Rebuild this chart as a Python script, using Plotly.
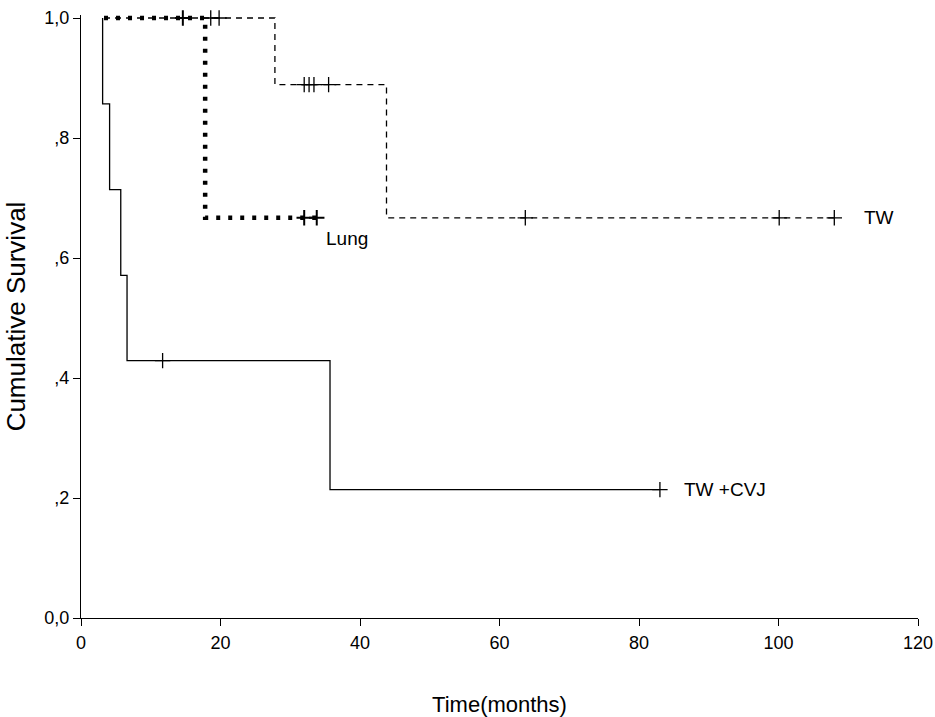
import plotly.graph_objects as go

# ---- data (months, cumulative survival) ----
tw_cvj_time = [3.1, 4.1, 5.7, 6.6, 11.7, 35.7, 83.0]
tw_cvj_surv = [0.857, 0.714, 0.571, 0.429, 0.429, 0.214, 0.214]
tw_cvj_cens = [0, 0, 0, 0, 1, 0, 1]

lung_time = [3.3, 14.6, 17.8, 32.0, 33.8]
lung_surv = [1.0, 1.0, 0.667, 0.667, 0.667]
lung_cens = [0, 1, 0, 1, 1]

tw_time = [3.3, 18.6, 19.8, 27.8, 32.0, 32.7, 33.4, 35.5, 43.8, 63.7, 100.1, 108.0]
tw_surv = [1.0, 1.0, 1.0, 0.889, 0.889, 0.889, 0.889, 0.889, 0.667, 0.667, 0.667, 0.667]
tw_cens = [0, 1, 1, 0, 1, 1, 1, 1, 0, 1, 1, 1]

y_ticks = [0.0, 0.2, 0.4, 0.6, 0.8, 1.0]
y_ticktext = ["0,0", ",2", ",4", ",6", ",8", "1,0"]
x_ticks = [0, 20, 40, 60, 80, 100, 120]

labels = [("TW +CVJ", 86.2, 0.214), ("Lung", 34.9, 0.632), ("TW", 111.9, 0.667)]

FONT = "Liberation Sans, Arial, sans-serif"

fig = go.Figure()


def add_curve(t, s, c, dash, width, start_at_one=True, mwidth=1.3):
    xs = list(t)
    ys = list(s)
    if start_at_one and ys[0] != 1.0:
        xs = [t[0]] + xs
        ys = [1.0] + ys
    fig.add_trace(go.Scatter(x=xs, y=ys, mode="lines", line_shape="hv",
                             line=dict(color="black", width=width, dash=dash),
                             hoverinfo="skip", showlegend=False))
    cx = [a for a, f in zip(t, c) if f]
    cy = [b for b, f in zip(s, c) if f]
    fig.add_trace(go.Scatter(x=cx, y=cy, mode="markers", cliponaxis=False,
                             marker=dict(symbol="cross-thin", size=11,
                                         line=dict(color="black", width=mwidth)),
                             hoverinfo="skip", showlegend=False))


add_curve(tw_time, tw_surv, tw_cens, "6px,5px", 1.3)
add_curve(lung_time, lung_surv, lung_cens, "4px,8px", 4.5, mwidth=2)
add_curve(tw_cvj_time, tw_cvj_surv, tw_cvj_cens, "solid", 1.3)

for txt, x, y in labels:
    fig.add_annotation(x=x, y=y, text=txt, showarrow=False, xanchor="left",
                       yanchor="middle", font=dict(family=FONT, size=19, color="black"))

fig.update_layout(
    width=935, height=717,
    margin=dict(l=81, r=17, t=15, b=99),
    plot_bgcolor="white", paper_bgcolor="white",
    font=dict(family=FONT, size=18, color="black"),
    xaxis=dict(range=[0, 120], tickvals=x_ticks, showgrid=False, zeroline=False,
               automargin=False,
               showline=True, linecolor="black", linewidth=1.3,
               ticks="outside", ticklen=7, tickwidth=1.3, tickcolor="black",
               tickfont=dict(size=18), ticklabelstandoff=1,
               ticklabeloverflow="allow",
               title=dict(text="Time(months)", font=dict(size=22), standoff=48)),
    yaxis=dict(range=[0, 1.005], tickvals=y_ticks, ticktext=y_ticktext,
               showgrid=False, zeroline=False, automargin=False,
               showline=True, linecolor="black", linewidth=1.3,
               ticks="outside", ticklen=7, tickwidth=1.3, tickcolor="black",
               tickfont=dict(size=18), ticklabeloverflow="allow",
               title=dict(text="Cumulative Survival", font=dict(size=26), standoff=11)),
)

fig.write_html("out.html")
